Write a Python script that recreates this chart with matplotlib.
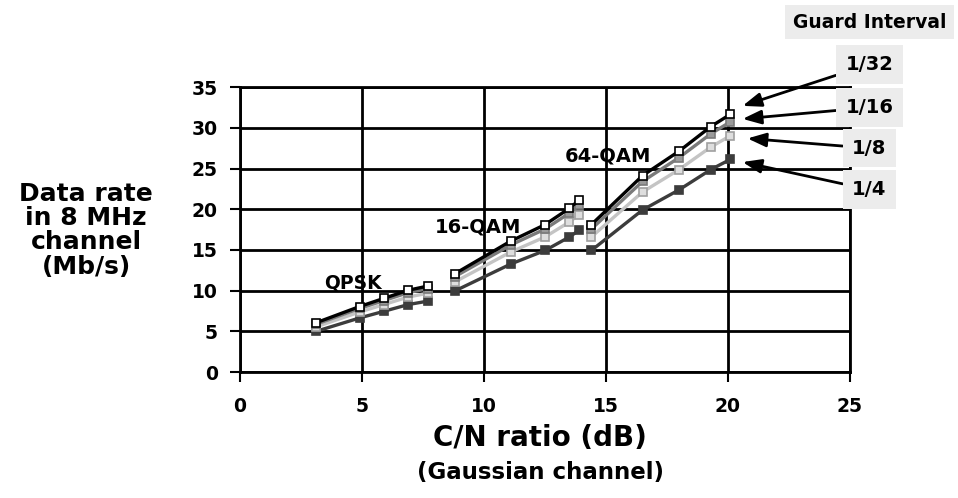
import matplotlib.pyplot as plt

plt.rcParams['font.family'] = ['DejaVu Sans']
plt.rcParams['font.weight'] = 'bold'

# C/N (dB) for each code rate 1/2, 2/3, 3/4, 5/6, 7/8
cn_qpsk = [3.1, 4.9, 5.9, 6.9, 7.7]
cn_16qam = [8.8, 11.1, 12.5, 13.5, 13.9]
cn_64qam = [14.4, 16.5, 18.0, 19.3, 20.1]

# data rate (Mb/s) per guard interval
guards = ['1/32', '1/16', '1/8', '1/4']
rate_qpsk = {
    '1/32': [6.03, 8.04, 9.05, 10.05, 10.56],
    '1/16': [5.85, 7.81, 8.78, 9.76, 10.25],
    '1/8': [5.53, 7.37, 8.29, 9.22, 9.68],
    '1/4': [4.98, 6.64, 7.46, 8.29, 8.71],
}
rate_16qam = {
    '1/32': [12.06, 16.09, 18.10, 20.11, 21.11],
    '1/16': [11.71, 15.61, 17.56, 19.52, 20.49],
    '1/8': [11.06, 14.75, 16.59, 18.43, 19.35],
    '1/4': [9.95, 13.27, 14.93, 16.59, 17.42],
}
rate_64qam = {
    '1/32': [18.10, 24.13, 27.14, 30.16, 31.67],
    '1/16': [17.56, 23.42, 26.35, 29.27, 30.74],
    '1/8': [16.59, 22.12, 24.88, 27.65, 29.03],
    '1/4': [14.93, 19.91, 22.39, 24.88, 26.13],
}

line_col = {'1/32': 'black', '1/16': '#7a7a7a', '1/8': '#c4c4c4', '1/4': '#3c3c3c'}
face_col = {'1/32': 'white', '1/16': '#9a9a9a', '1/8': '#dedede', '1/4': '#3c3c3c'}
zord = {'1/32': 6, '1/16': 5, '1/8': 4, '1/4': 3}

fig = plt.figure(figsize=(9.58, 4.98), dpi=100)
ax = fig.add_axes([0.2505, 0.253, 0.6367, 0.572])

for g in guards:
    for cn, rates in [(cn_qpsk, rate_qpsk), (cn_16qam, rate_16qam), (cn_64qam, rate_64qam)]:
        ax.plot(cn, rates[g], '-s', color=line_col[g], lw=2.4, ms=5.5,
                mfc=face_col[g], mec=line_col[g] if g != '1/8' else '#a0a0a0',
                mew=1.2, zorder=zord[g])

ax.set_xlim(0, 25)
ax.set_ylim(0, 35)
ax.set_xticks(range(0, 26, 5))
ax.set_yticks(range(0, 36, 5))
ax.grid(True, color='black', lw=2)
ax.set_axisbelow(True)
for s in ax.spines.values():
    s.set_linewidth(2)
ax.tick_params(axis='both', length=7, width=1.5, labelsize=13.5)
ax.tick_params(axis='y', pad=9)
ax.tick_params(axis='x', pad=11)
for lab in ax.get_xticklabels() + ax.get_yticklabels():
    lab.set_fontweight('bold')

ax.text(4.63, 10.9, 'QPSK', ha='center', va='center', fontsize=13.5, fontweight='bold', zorder=8)
ax.text(9.75, 17.8, '16-QAM', ha='center', va='center', fontsize=14, fontweight='bold', zorder=8)
ax.text(15.1, 26.5, '64-QAM', ha='center', va='center', fontsize=14, fontweight='bold', zorder=8)

box = dict(boxstyle='square,pad=0.5', fc='#ececec', ec='none')
targets = {'1/32': (20.6, 32.7), '1/16': (20.6, 31.1), '1/8': (20.8, 28.7), '1/4': (20.6, 25.8)}
label_pos = {'1/32': (25.8, 37.8), '1/16': (25.8, 32.5), '1/8': (25.8, 27.5), '1/4': (25.8, 22.4)}
for g in guards:
    ax.annotate(g, xy=targets[g], xytext=label_pos[g], ha='center', va='center',
                fontsize=14, fontweight='bold', bbox=box, annotation_clip=False, zorder=9,
                arrowprops=dict(arrowstyle='-|>,head_length=0.8,head_width=0.3',
                                color='black', lw=2, shrinkA=0, shrinkB=0))

ax.text(25.8, 43.0, 'Guard Interval', ha='center', va='center', fontsize=13.5,
        fontweight='bold', bbox=dict(boxstyle='square,pad=0.4', fc='#ececec', ec='none'),
        clip_on=False)

fig.text(0.09, 0.538, 'Data rate\nin 8 MHz\nchannel\n(Mb/s)', ha='center', va='center',
         fontsize=18, fontweight='bold', linespacing=1.02)
fig.text(0.564, 0.12, 'C/N ratio (dB)', ha='center', va='center', fontsize=20, fontweight='bold')
fig.text(0.564, 0.052, '(Gaussian channel)', ha='center', va='center', fontsize=16.5, fontweight='bold')

fig.savefig('out.png', dpi=100)
